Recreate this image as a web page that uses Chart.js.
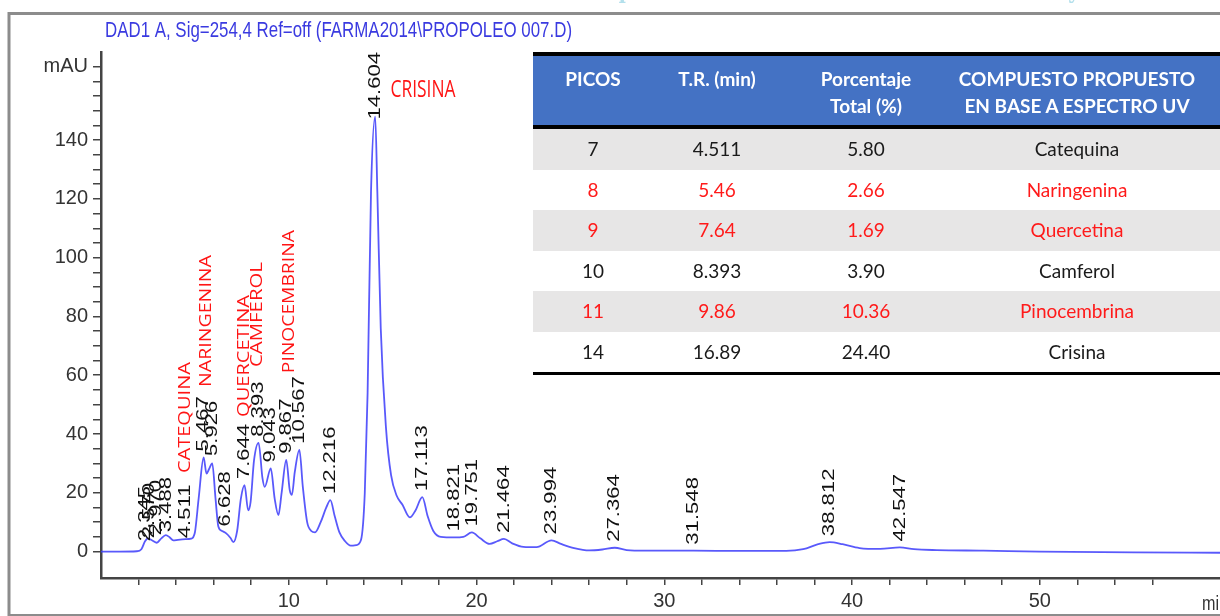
<!DOCTYPE html>
<html>
<head>
<meta charset="utf-8">
<script src="https://cdn.jsdelivr.net/npm/chart.js@4.4.0/dist/chart.umd.min.js"></script>
<style>
  body { margin: 0; background: #fff; }
  #wrap { position: relative; width: 1220px; height: 616px; overflow: hidden; background: #fff; }
  #chart { position: absolute; left: 0; top: 0; }
  #peaks-table {
    position: absolute; left: 533px; top: 52px; width: 687px;
    border-collapse: collapse; table-layout: fixed;
    font-family: Lato, "Open Sans", sans-serif; font-size: 19px; color: #1a1a1a;
  }
  #peaks-table th {
    background: #4472c4; color: #fff; font-weight: bold; line-height: 27px;
    vertical-align: top; padding: 9px 0 0 0; height: 60px;
    border-top: 4px solid #000; border-bottom: 4px solid #000;
  }
  #peaks-table td { text-align: center; height: 40.5px; padding: 0; line-height: 20px; }
  #peaks-table tr:nth-child(odd) td { background: #e7e6e6; }
  #peaks-table tr:last-child td { border-bottom: 3px solid #000; }
  #peaks-table tr.red td { color: #ff1a1a; }
  #peaks-table .last { padding-right: 17px; }
</style>
</head>
<body>
<div id="wrap">
  <canvas id="chart" width="1220" height="616"></canvas>
  <table id="peaks-table">
    <colgroup><col style="width:120px"><col style="width:128px"><col style="width:170px"><col style="width:269px"></colgroup>
    <thead><tr>
      <th>PICOS</th><th>T.R. (min)</th><th>Porcentaje<br>Total (%)</th><th class="last">COMPUESTO PROPUESTO<br>EN BASE A ESPECTRO UV</th>
    </tr></thead>
    <tbody id="table-body"></tbody>
  </table>
</div>
<script>
// chromatogram trace (min, mAU)
const timeMin = [0, 1, 1.9, 2.15, 2.345, 2.5, 2.75, 2.97, 3.2, 3.45, 3.65, 3.85, 4.1, 4.5, 4.8,
  5.0, 5.2, 5.467, 5.62, 5.75, 5.926, 6.1, 6.25, 6.45, 6.67, 6.9, 7.05, 7.25, 7.45, 7.644, 7.84,
  7.97, 8.15, 8.393, 8.6, 8.72, 9.043, 9.25, 9.45, 9.62, 9.867, 10.05, 10.17, 10.32, 10.567, 10.75,
  10.98, 11.2, 11.4, 11.7, 12.0, 12.216, 12.45, 12.7, 13.0, 13.3, 13.6, 13.85, 14.05, 14.2, 14.38,
  14.604, 14.72, 14.9, 15.18, 15.45, 15.75, 16.05, 16.45, 16.75, 17.113, 17.4, 17.7, 18.1, 18.821,
  19.3, 19.751, 20.2, 20.7, 21.1, 21.464, 21.9, 22.5, 23.2, 23.994, 24.5, 25.2, 26.0, 26.7, 27.364,
  28.0, 29.0, 31.548, 34.0, 36.5, 37.4, 38.2, 38.812, 39.5, 40.4, 41.5, 42.547, 43.3, 44.5, 47.0,
  50.0, 55.0, 59.6];
const absMAU = [0, 0, 0.1, 0.8, 3.5, 4.5, 3.7, 3.0, 4.4, 5.6, 4.9, 3.8, 4.0, 4.2, 4.4,
  6.5, 18, 32, 26.5, 28, 30, 18, 8.5, 7, 6.2, 4.6, 3.2, 7, 18, 22.6, 14,
  17, 31, 37, 25, 22, 28.3, 18, 12.4, 20, 31.2, 21, 19.3, 27, 34.6, 22,
  10, 7, 6.5, 10, 15, 17.5, 12, 6.5, 3.5, 2.0, 2.2, 4, 20, 54, 122,
  148, 122, 76, 42, 26, 19, 16, 11.6, 14, 18.5, 12, 7, 5, 4.8,
  5, 6.5, 4.5, 2.6, 3.5, 4.3, 2.8, 1.6, 1.5, 3.8, 2.6, 1.2, 0.4, 0.7, 1.3,
  0.5, 0.3, 0.3, 0.2, 0.2, 0.8, 2.5, 3.2, 2.5, 1.2, 0.9, 1.4, 0.8, 0.5, 0.3,
  0, -0.3, -0.4];

// integrated peaks: retention time labels and apex heights (mAU)
const peakTimes = ['2.345', '2.570', '2.970', '3.488', '4.511', '5.467', '5.926', '6.628', '7.644',
  '8.393', '9.043', '9.867', '10.567', '12.216', '14.604', '17.113', '18.821', '19.751', '21.464',
  '23.994', '27.364', '31.548', '38.812', '42.547'];
const peakHeights = [1.5, 2.5, 3.5, 4.5, 2.5, 32, 30.5, 6.5, 22.6, 37, 28.3, 31.2, 34.6, 17.5, 148,
  18.5, 4.8, 6.5, 4.3, 3.8, 1.3, 0.3, 3.2, 1.4];

// table rows
const picos = ['7', '8', '9', '10', '11', '14'];
const trMin = ['4.511', '5.46', '7.64', '8.393', '9.86', '16.89'];
const pctTotal = ['5.80', '2.66', '1.69', '3.90', '10.36', '24.40'];
const compounds = ['Catequina', 'Naringenina', 'Quercetina', 'Camferol', 'Pinocembrina', 'Crisina'];
const redRows = [1, 2, 4];

// y and x tick labelling
const yLabels = [0, 20, 40, 60, 80, 100, 120, 140];
const xLabels = [10, 20, 30, 40, 50];
const unitLabel = 'mAU';

// red compound tags drawn on the chromatogram (position in axis units, length in px)
const nameTags = [
  { text: 'CATEQUINA', at: 4.50, base: 26.7, len: 111, vertical: true },
  { text: 'NARINGENINA', at: 5.62, base: 56, len: 132, vertical: true },
  { text: 'QUERCETINA', at: 7.65, base: 45.8, len: 122, vertical: true },
  { text: 'CAMFEROL', at: 8.34, base: 62.8, len: 105, vertical: true },
  { text: 'PINOCEMBRINA', at: 10.02, base: 60.7, len: 143, vertical: true },
  { text: 'CRISINA', at: 15.42, base: 154.6, len: 65, vertical: false }
];

const tickFont = { family: "'Liberation Sans Narrow', 'Liberation Sans', sans-serif", size: 20 };

const tbody = document.getElementById('table-body');
picos.forEach((p, i) => {
  const tr = document.createElement('tr');
  if (redRows.includes(i)) tr.className = 'red';
  tr.innerHTML = `<td>${p}</td><td>${trMin[i]}</td><td>${pctTotal[i]}</td><td class="last">${compounds[i]}</td>`;
  tbody.appendChild(tr);
});

function fitText(ctx, text, x, y, len, vertical) {
  ctx.save();
  ctx.translate(x, y);
  if (vertical) ctx.rotate(-Math.PI / 2);
  const w = ctx.measureText(text).width;
  ctx.scale(len / w, 1);
  ctx.fillText(text, 0, 0);
  ctx.restore();
}

const decor = {
  id: 'decor',
  beforeDraw(chart) {
    const ctx = chart.ctx;
    ctx.save();
    ctx.fillStyle = '#fff';
    ctx.fillRect(0, 0, chart.width, chart.height);
    // slide header above, only its lower edge shows
    ctx.fillStyle = '#b3e0ec';
    ctx.font = "bold 22px 'DejaVu Serif', serif";
    ctx.textBaseline = 'alphabetic';
    ctx.textAlign = 'left';
    fitText(ctx, 'Departamento de Ciencias de la Producción y Salud Animal', 590, -2, 640, false);
    // frame
    ctx.strokeStyle = '#8c8c8c';
    ctx.lineWidth = 3;
    ctx.beginPath();
    ctx.moveTo(9, 616);
    ctx.lineTo(9, 13.5);
    ctx.lineTo(1220, 13.5);
    ctx.stroke();
    ctx.lineWidth = 2;
    ctx.beginPath();
    ctx.moveTo(9, 615);
    ctx.lineTo(1220, 615);
    ctx.stroke();
    // title
    ctx.fillStyle = '#3a3ae0';
    ctx.font = "22px 'Liberation Sans', sans-serif";
    fitText(ctx, 'DAD1 A, Sig=254,4 Ref=off (FARMA2014\\PROPOLEO 007.D)', 105, 37, 467, false);
    ctx.restore();
  },
  afterDatasetsDraw(chart) {
    const ctx = chart.ctx;
    const x = chart.scales.x, y = chart.scales.y;
    ctx.save();
    ctx.textBaseline = 'middle';
    ctx.textAlign = 'left';
    ctx.fillStyle = '#111';
    ctx.font = "17px 'Liberation Sans', sans-serif";
    peakTimes.forEach((t, i) => {
      const px = x.getPixelForValue(parseFloat(t));
      const w = ctx.measureText(t).width * 1.3;
      let py = y.getPixelForValue(peakHeights[i]) - 6;
      if (py - w < chart.chartArea.top) py = chart.chartArea.top + w;
      fitText(ctx, t, px, py, w, true);
    });
    ctx.fillStyle = '#ff1414';
    nameTags.forEach(tag => {
      const px = x.getPixelForValue(tag.at);
      const py = y.getPixelForValue(tag.base);
      if (tag.vertical) {
        ctx.font = "16px 'Open Sans', sans-serif";
        ctx.textBaseline = 'middle';
      } else {
        ctx.font = "23px 'Open Sans', sans-serif";
        ctx.textBaseline = 'alphabetic';
      }
      fitText(ctx, tag.text, px, py, tag.len, tag.vertical);
    });
    // axis unit at the right end, cut by the edge
    ctx.fillStyle = '#333';
    ctx.font = `${tickFont.size}px ${tickFont.family}`;
    ctx.textBaseline = 'middle';
    fitText(ctx, 'min', 1202, 604, 26, false);
    ctx.restore();
  }
};

new Chart(document.getElementById('chart'), {
  type: 'line',
  data: {
    datasets: [{
      data: timeMin.map((t, i) => ({ x: t, y: absMAU[i] })),
      borderColor: 'rgba(60, 60, 250, 0.85)',
      borderWidth: 1.8,
      pointRadius: 0,
      cubicInterpolationMode: 'monotone',
      fill: false
    }]
  },
  options: {
    responsive: false,
    animation: false,
    layout: { padding: { top: 52, left: 0, right: 0, bottom: 0 } },
    plugins: { legend: { display: false }, tooltip: { enabled: false } },
    scales: {
      x: {
        type: 'linear', min: 0, max: 59.6,
        afterFit: s => { s.height = 38; },
        afterBuildTicks: s => { s.ticks = s.ticks.filter(t => t.value > 0 && t.value % 2 === 0); },
        grid: { drawOnChartArea: false, drawTicks: true, tickLength: 7, color: '#444', lineWidth: 1.5 },
        border: { color: '#444', width: 2.5 },
        ticks: {
          stepSize: 2, autoSkip: false, maxRotation: 0, padding: 4, color: '#333', font: tickFont,
          callback: v => (xLabels.includes(v) ? String(v) : '')
        }
      },
      y: {
        min: -9, max: 170,
        afterFit: s => { s.width = 101; },
        afterBuildTicks: s => { s.ticks = s.ticks.filter(t => t.value % 5 === 0 && t.value <= 165); },
        grid: { drawOnChartArea: false, drawTicks: true, tickLength: 8, color: '#444', lineWidth: 1.5 },
        border: { color: '#444', width: 2.5 },
        ticks: {
          stepSize: 5, autoSkip: false, padding: 5, color: '#333', font: tickFont,
          callback: v => (v === 165 ? unitLabel : (yLabels.includes(v) ? String(v) : ''))
        }
      }
    }
  },
  plugins: [decor]
});
</script>
</body>
</html>
